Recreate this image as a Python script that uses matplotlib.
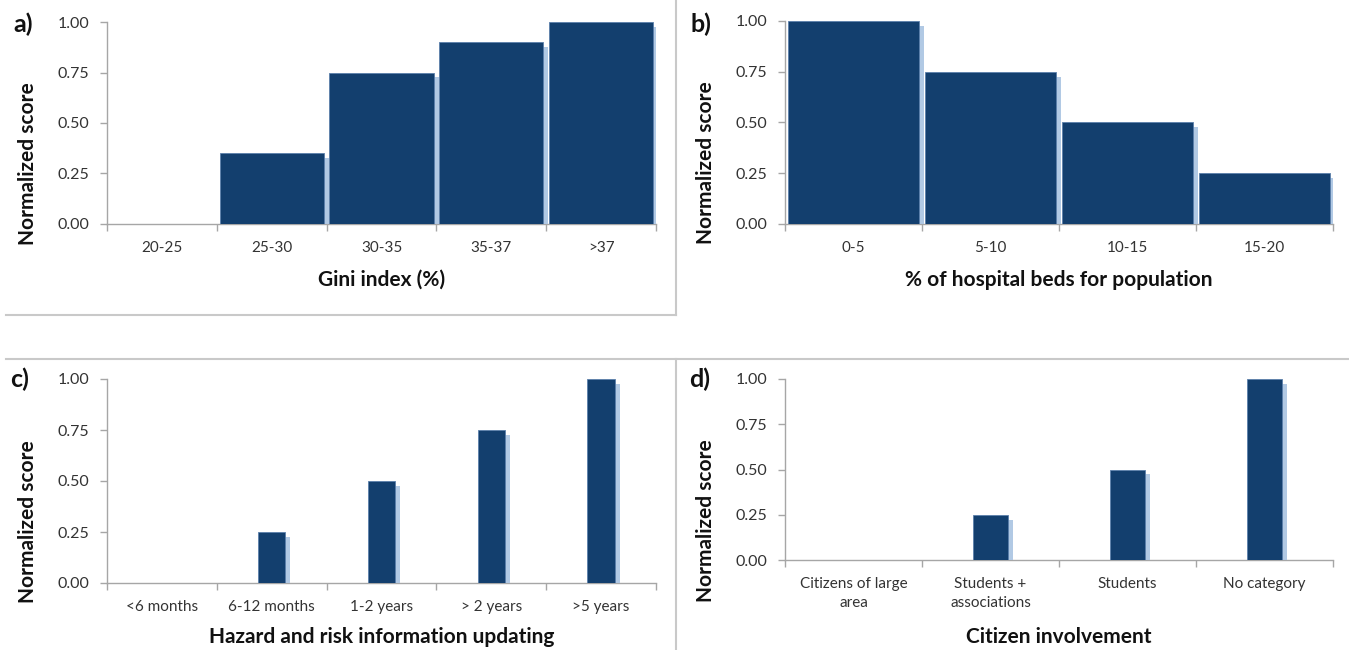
import numpy as np
import matplotlib
matplotlib.use("Agg")
import matplotlib.pyplot as plt
import matplotlib.patheffects as pe
from matplotlib.lines import Line2D

plt.rcParams['font.family'] = ['Lato', 'DejaVu Sans']

# data
gini_cats = ['20-25', '25-30', '30-35', '35-37', '>37']
gini_scores = [0.0, 0.35, 0.75, 0.90, 1.00]

beds_cats = ['0-5', '5-10', '10-15', '15-20']
beds_scores = [1.00, 0.75, 0.50, 0.25]

update_cats = ['<6 months', '6-12 months', '1-2 years', '> 2 years', '>5 years']
update_scores = [0.0, 0.25, 0.50, 0.75, 1.00]

citizen_cats = ['Citizens of large\narea', 'Students +\nassociations', 'Students', 'No category']
citizen_scores = [0.0, 0.25, 0.50, 1.00]

y_ticks = [0.0, 0.25, 0.5, 0.75, 1.0]

W, H = 1349, 650
BAR = '#133f6e'
SHADOW = '#a9c3e2'
GRID = '#a6a6a6'

fig = plt.figure(figsize=(W / 100, H / 100), dpi=100)


def px_axes(left, right, top, bottom):
    return fig.add_axes([left / W, 1 - bottom / H, (right - left) / W, (bottom - top) / H])


def panel(box, cats, scores, width, xlabel, letter, xlab_dy, ylab_frac, letter_xy):
    left, right, top, bottom = box
    ax = px_axes(left, right, top, bottom)
    h_px = bottom - top
    w_px = right - left
    n = len(cats)
    x = np.arange(n)
    bars = ax.bar(x, scores, width=width, color=BAR, edgecolor='#5b7fab',
                  linewidth=0.6, zorder=3)
    for b, s in zip(bars, scores):
        if s > 0:
            b.set_path_effects([pe.SimplePatchShadow(offset=(3.5, -3.5), shadow_rgbFace=SHADOW, alpha=0.9),
                                pe.Normal()])
        else:
            b.set_visible(False)
    ax.set_xlim(-0.5, n - 0.5)
    ax.set_ylim(0, 1)
    ax.set_yticks(y_ticks)
    ax.set_yticklabels(['%.2f' % v for v in y_ticks])
    ax.set_xticks(x)
    ax.set_xticklabels(cats, linespacing=1.45)
    ax.set_xticks(np.arange(-0.5, n), minor=True)
    ax.tick_params(axis='x', which='major', length=0, pad=12, labelsize=11, colors='#333333')
    ax.tick_params(axis='x', which='minor', length=5, width=1, color=GRID)
    ax.tick_params(axis='y', length=5, width=1, color=GRID, pad=8, labelsize=11.5, labelcolor='#333333')
    for s in ['top', 'right']:
        ax.spines[s].set_visible(False)
    for s in ['left', 'bottom']:
        ax.spines[s].set_color(GRID)
        ax.spines[s].set_linewidth(1)
    ax.set_xlabel(xlabel, fontsize=15, fontweight='bold', color='#111111')
    ax.xaxis.set_label_coords(0.5, -xlab_dy / h_px)
    ax.xaxis.label.set_va('center')
    ax.set_ylabel('Normalized score', fontsize=15, fontweight='bold', color='#111111')
    ax.yaxis.set_label_coords(-79 / w_px, ylab_frac)
    ax.yaxis.label.set_va('center')
    fig.text(letter_xy[0] / W, 1 - letter_xy[1] / H, letter, fontsize=18, fontweight='bold',
             ha='left', va='center', color='#111111')
    return ax


panel((107, 656, 22, 224), gini_cats, gini_scores, 0.95, 'Gini index (%)', 'a)', 56, 0.30, (13, 24))
panel((785, 1333, 21, 224), beds_cats, beds_scores, 0.96, '% of hospital beds for population', 'b)', 56, 0.30, (690, 24))
panel((107, 656, 379, 583), update_cats, update_scores, 0.25, 'Hazard and risk information updating', 'c)', 54, 0.30, (10, 379))
panel((785, 1333, 379, 560), citizen_cats, citizen_scores, 0.26, 'Citizen involvement', 'd)', 77, 0.22, (689, 379))

# panel frame lines
line_kw = dict(transform=fig.transFigure, color='#c9c9c9', linewidth=1.5)
fig.add_artist(Line2D([676 / W, 676 / W], [1, 1 - 315 / H], **line_kw))
fig.add_artist(Line2D([6 / W, 676 / W], [1 - 315 / H, 1 - 315 / H], **line_kw))
fig.add_artist(Line2D([6 / W, 1], [1 - 359 / H, 1 - 359 / H], **line_kw))
fig.add_artist(Line2D([676 / W, 676 / W], [1 - 359 / H, 0], **line_kw))

fig.savefig('out.png', dpi=100)
